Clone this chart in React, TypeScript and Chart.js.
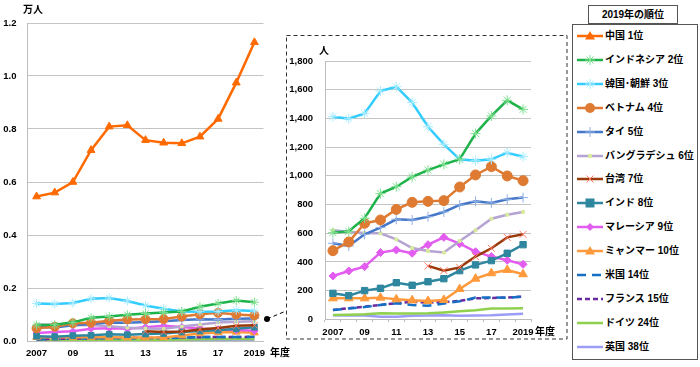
import React, { useEffect, useRef } from 'react';
import { Chart, registerables } from 'chart.js';
Chart.register(...registerables);

const FONT = "'Liberation Sans','Noto Sans CJK JP',sans-serif";

// categories (fiscal years)
const years = ['2007', '2008', '2009', '2010', '2011', '2012', '2013', '2014', '2015', '2016', '2017', '2018', '2019'];
const xTickLabels = ['2007', '', '09', '', '11', '', '13', '', '15', '', '17', '', '2019'];

// values in persons (人)
const china = [5450, 5600, 6000, 7200, 8090, 8140, 7580, 7480, 7460, 7710, 8380, 9750, 11270];
const indonesia = [604, 613, 704, 876, 924, 992, 1040, 1080, 1115, 1294, 1417, 1526, 1463];
const korea = [1412, 1398, 1435, 1591, 1621, 1510, 1342, 1219, 1115, 1105, 1115, 1161, 1133];
const vietnam = [478, 539, 669, 692, 766, 815, 822, 827, 922, 1006, 1064, 999, 966];
const thailand = [530, 511, 592, 639, 697, 692, 715, 748, 797, 822, 811, 836, 848];
const bangladesh = [620, 611, 602, 599, 557, 497, 476, 465, 546, 620, 701, 729, 748];
const taiwan = [null, null, null, null, null, null, 372, 339, 362, 437, 495, 571, 592];
const india = [181, 165, 200, 216, 255, 237, 262, 283, 339, 379, 409, 460, 520];
const malaysia = [302, 337, 367, 465, 483, 460, 520, 571, 527, 471, 437, 411, 383];
const myanmar = [146, 146, 146, 151, 139, 132, 128, 135, 211, 283, 321, 344, 314];
const usa = [65, 75, 85, 100, 112, 100, 95, 110, 125, 152, 152, 150, 158];
const france = [65, 77, 88, 100, 113, 122, 116, 120, 128, 146, 148, 152, 158];
const germany = [30, 32, 35, 42, 40, 40, 42, 48, 56, 63, 75, 76, 77];
const uk = [28, 27, 27, 18, 17, 25, 26, 28, 25, 26, 28, 33, 38];

const legendLabels = [
  '中国 1位', 'インドネシア 2位', '韓国･朝鮮 3位', 'ベトナム 4位', 'タイ 5位', 'バングラデシュ 6位',
  '台湾 7位', 'インド 8位', 'マレーシア 9位', 'ミャンマー 10位', '米国 14位', 'フランス 15位', 'ドイツ 24位', '英国 38位',
];

const mainYTicks = [0, 0.2, 0.4, 0.6, 0.8, 1.0, 1.2];
const insetYTicks = [0, 200, 400, 600, 800, 1000, 1200, 1400, 1600, 1800];

type Sty = { line: string; marker: any; mColor: string; mBorder: string; r: number; dash?: number[]; bw?: number };

const seriesData = [china, indonesia, korea, vietnam, thailand, bangladesh, taiwan, india, malaysia, myanmar, usa, france, germany, uk];
const styles: Sty[] = [
  { line: '#FF6A00', marker: 'triangle', mColor: '#FF6A00', mBorder: '#FF6A00', r: 5 },
  { line: '#1DB24A', marker: 'star', mColor: '#7EE08F', mBorder: '#7EE08F', r: 5, bw: 1 },
  { line: '#33CCFF', marker: 'star', mColor: '#A6ECFF', mBorder: '#A6ECFF', r: 5, bw: 1 },
  { line: '#DE7A32', marker: 'circle', mColor: '#DE7A32', mBorder: '#DE7A32', r: 5 },
  { line: '#4477C8', marker: 'cross', mColor: '#8FB0E6', mBorder: '#8FB0E6', r: 5, bw: 1 },
  { line: '#B5A3D3', marker: 'rect', mColor: '#D8EA9C', mBorder: '#D8EA9C', r: 2 },
  { line: '#9A3A0A', marker: 'crossRot', mColor: '#FF7A66', mBorder: '#FF7A66', r: 5, bw: 1 },
  { line: '#2E879E', marker: 'rect', mColor: '#2E879E', mBorder: '#2E879E', r: 4.5 },
  { line: '#E35CF0', marker: 'rectRot', mColor: '#E35CF0', mBorder: '#E35CF0', r: 4 },
  { line: '#FF9A3C', marker: 'triangle', mColor: '#FF9A3C', mBorder: '#FF9A3C', r: 5 },
  { line: '#1570C4', marker: false, mColor: '#1570C4', mBorder: '#1570C4', r: 0, dash: [9, 6] },
  { line: '#6A2AA0', marker: false, mColor: '#6A2AA0', mBorder: '#6A2AA0', r: 0, dash: [5, 3] },
  { line: '#8FD14F', marker: false, mColor: '#8FD14F', mBorder: '#8FD14F', r: 0 },
  { line: '#9C9CF4', marker: false, mColor: '#9C9CF4', mBorder: '#9C9CF4', r: 0 },
];

function makeDatasets(scale: number, skipChina: boolean, rScale: number) {
  const out: any[] = [];
  seriesData.forEach((arr, i) => {
    if (skipChina && i === 0) return;
    const s = styles[i];
    out.push({
      label: legendLabels[i],
      data: arr.map((v) => (v == null ? null : v / scale)),
      borderColor: s.line,
      backgroundColor: s.mColor,
      borderWidth: 2.5,
      borderDash: s.dash || [],
      pointStyle: s.marker || 'circle',
      pointRadius: s.r * rScale,
      pointBorderColor: s.mBorder,
      pointBackgroundColor: s.mColor,
      pointBorderWidth: s.bw || 1,
      tension: 0,
      spanGaps: false,
    });
  });
  return out;
}

const tickFont = { family: FONT, size: 9.5, weight: 'bold' };

function MainChart() {
  const ref = useRef<HTMLCanvasElement>(null);
  useEffect(() => {
    const chart = new Chart(ref.current!, {
      type: 'line',
      data: { labels: years, datasets: makeDatasets(10000, false, 0.9) },
      options: {
        animation: false,
        responsive: false,
        devicePixelRatio: 1,
        layout: { padding: { top: 23, right: 26.5, left: 0, bottom: 0 } },
        plugins: { legend: { display: false }, tooltip: { enabled: false } },
        scales: {
          x: {
            type: 'category',
            offset: true,
            grid: { display: false, drawTicks: false },
            border: { display: true, color: '#BDBDBD', width: 1 },
            ticks: {
              autoSkip: false, maxRotation: 0, padding: 7, color: '#000', font: tickFont,
              callback: (_v: any, i: number) => xTickLabels[i],
            },
            afterFit: (s: any) => { s.height = 26; },
          },
          y: {
            min: mainYTicks[0],
            max: mainYTicks[mainYTicks.length - 1],
            grid: { color: '#C4C4C4', drawTicks: false },
            border: { display: true, color: '#BDBDBD', width: 1 },
            afterBuildTicks: (s: any) => { s.ticks = mainYTicks.map((v) => ({ value: v })); },
            ticks: { padding: 11, color: '#000', font: tickFont, callback: (v: any) => Number(v).toFixed(1) },
            afterFit: (s: any) => { s.width = 27.5; },
          },
        },
      } as any,
    });
    return () => chart.destroy();
  }, []);
  return <canvas ref={ref} width={290} height={367} style={{ position: 'absolute', left: 0, top: 0, width: 290, height: 367 }} />;
}

function InsetChart() {
  const ref = useRef<HTMLCanvasElement>(null);
  useEffect(() => {
    const chart = new Chart(ref.current!, {
      type: 'line',
      data: { labels: years, datasets: makeDatasets(1, true, 1) },
      options: {
        animation: false,
        responsive: false,
        devicePixelRatio: 1,
        layout: { padding: { top: 25, right: 34, left: 0, bottom: 0 } },
        plugins: { legend: { display: false }, tooltip: { enabled: false } },
        scales: {
          x: {
            type: 'category',
            offset: true,
            grid: { display: true, drawOnChartArea: false, drawTicks: true, tickLength: 3, offset: true, color: '#BDBDBD' },
            border: { display: true, color: '#BDBDBD', width: 1 },
            ticks: {
              autoSkip: false, maxRotation: 0, padding: 4, color: '#000', font: tickFont,
              callback: (_v: any, i: number) => xTickLabels[i],
            },
            afterFit: (s: any) => { s.height = 18.7; },
          },
          y: {
            min: insetYTicks[0],
            max: insetYTicks[insetYTicks.length - 1],
            grid: { color: '#C4C4C4', drawTicks: false },
            border: { display: true, color: '#BDBDBD', width: 1 },
            afterBuildTicks: (s: any) => { s.ticks = insetYTicks.map((v) => ({ value: v })); },
            ticks: { padding: 12, color: '#000', font: tickFont, callback: (v: any) => Number(v).toLocaleString('en-US') },
            afterFit: (s: any) => { s.width = 38; },
          },
        },
      } as any,
    });
    return () => chart.destroy();
  }, []);
  return <canvas ref={ref} width={278} height={302} style={{ position: 'absolute', left: 287, top: 36, width: 278, height: 302 }} />;
}

function LegendMarker({ s }: { s: Sty }) {
  const cx = 13, cy = 6, r = s.r;
  let m: any = null;
  const c = s.mColor;
  switch (s.marker) {
    case 'triangle':
      m = <polygon points={`${cx},${cy - r} ${cx - r},${cy + r * 0.7} ${cx + r},${cy + r * 0.7}`} fill={c} />;
      break;
    case 'circle':
      m = <circle cx={cx} cy={cy} r={r} fill={c} />;
      break;
    case 'rect':
      m = <rect x={cx - r} y={cy - r} width={2 * r} height={2 * r} fill={c} />;
      break;
    case 'rectRot':
      m = <polygon points={`${cx},${cy - r} ${cx + r},${cy} ${cx},${cy + r} ${cx - r},${cy}`} fill={c} />;
      break;
    case 'cross':
      m = <path d={`M${cx},${cy - r}V${cy + r}M${cx - r},${cy}H${cx + r}`} stroke={c} strokeWidth={1} />;
      break;
    case 'crossRot':
      m = <path d={`M${cx - r * 0.7},${cy - r * 0.7}L${cx + r * 0.7},${cy + r * 0.7}M${cx - r * 0.7},${cy + r * 0.7}L${cx + r * 0.7},${cy - r * 0.7}`} stroke={c} strokeWidth={1} />;
      break;
    case 'star':
      m = <path d={`M${cx},${cy - r}V${cy + r}M${cx - r},${cy}H${cx + r}M${cx - r * 0.7},${cy - r * 0.7}L${cx + r * 0.7},${cy + r * 0.7}M${cx - r * 0.7},${cy + r * 0.7}L${cx + r * 0.7},${cy - r * 0.7}`} stroke={c} strokeWidth={1} />;
      break;
  }
  return (
    <svg width={26} height={12} style={{ position: 'absolute', left: 0, top: 0 }}>
      <line x1={0} y1={cy} x2={26} y2={cy} stroke={s.line} strokeWidth={2.5} strokeDasharray={s.dash ? s.dash.join(',') : undefined} />
      {m}
    </svg>
  );
}

function Legend() {
  return (
    <>
      <div style={{ position: 'absolute', left: 588, top: 5, width: 88, height: 17, border: '1px solid #555', background: '#fff', fontSize: 10, fontWeight: 'bold', lineHeight: '17px', textAlign: 'center', color: '#000' }}>
        2019年の順位
      </div>
      <div style={{ position: 'absolute', left: 572, top: 24, width: 124, height: 334, border: '1px solid #555', background: '#fff' }} />
      {legendLabels.map((lab, i) => (
        <div key={i} style={{ position: 'absolute', left: 577, top: 36 + i * 23.9 - 6, height: 12, width: 120 }}>
          <LegendMarker s={styles[i]} />
          <span style={{ position: 'absolute', left: 28, top: -1, fontSize: 10, fontWeight: 'bold', lineHeight: '14px', whiteSpace: 'nowrap', color: '#000' }}>{lab}</span>
        </div>
      ))}
    </>
  );
}

export default function App() {
  const textStyle: any = { position: 'absolute', fontSize: 10, fontWeight: 'bold', color: '#000', whiteSpace: 'nowrap', lineHeight: '12px' };
  return (
    <div style={{ position: 'fixed', left: 0, top: 0, width: 700, height: 367, background: '#fff', fontFamily: FONT, overflow: 'hidden' }}>
      <svg width={700} height={367} style={{ position: 'absolute', left: 0, top: 0 }}>
        <rect x={286.5} y={35.5} width={280.5} height={303.5} fill="none" stroke="#333" strokeWidth={1} strokeDasharray="4,3" />
      </svg>
      <MainChart />
      <InsetChart />
      <svg width={700} height={367} style={{ position: 'absolute', left: 0, top: 0 }}>
        <line x1={267} y1={319} x2={286} y2={311} stroke="#000" strokeWidth={1} strokeDasharray="4,3" />
        <circle cx={267} cy={319} r={3} fill="#000" />
      </svg>
      <div style={{ ...textStyle, left: 23, top: 4 }}>万人</div>
      <div style={{ ...textStyle, left: 270, top: 347 }}>年度</div>
      <div style={{ ...textStyle, left: 319, top: 45 }}>人</div>
      <div style={{ ...textStyle, left: 535, top: 326 }}>年度</div>
      <Legend />
    </div>
  );
}
